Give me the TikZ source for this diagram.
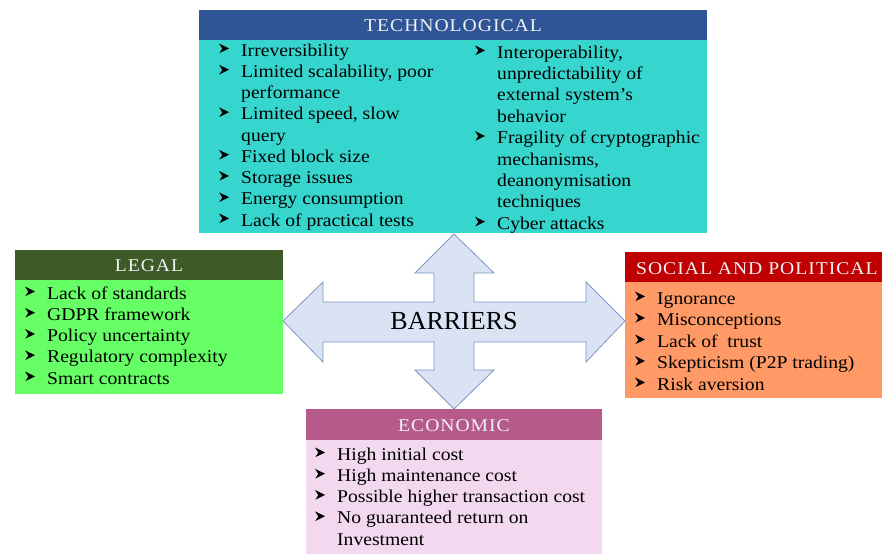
\documentclass[tikz,border=0pt]{standalone}
\usepackage{fontspec}
\setmainfont{Liberation Serif}
\newfontfamily\bodyfont{Liberation Serif}[FakeStretch=1.09]
\newfontfamily\hdrfont{Liberation Serif}[FakeStretch=1.09,LetterSpace=5.5]
\definecolor{techH}{HTML}{2F5597}
\definecolor{techB}{HTML}{36D6CE}
\definecolor{legH}{HTML}{3D5A27}
\definecolor{legB}{HTML}{66FF66}
\definecolor{socH}{HTML}{C00000}
\definecolor{socB}{HTML}{FF9966}
\definecolor{ecoH}{HTML}{B55A8A}
\definecolor{ecoB}{HTML}{F3D9EF}
\definecolor{arrF}{HTML}{DAE3F3}
\definecolor{arrD}{HTML}{7F95C2}
\definecolor{hdrT}{HTML}{EEF0F4}
\newcommand\bitem[4]{\pic at (#1-22,#2) {bul}; \node[txt,anchor=base west] (#4) at (#1,#2) {#3};}
\newcommand\citem[4]{\node[txt,anchor=base west] (#4) at (#1,#2) {#3};}
\begin{document}
\begin{tikzpicture}[x=1pt,y=-1pt,
  txt/.style={inner sep=0pt,font=\bodyfont\fontsize{18}{20}\selectfont,text=black},
  hdr/.style={inner sep=0pt,font=\hdrfont\fontsize{18}{20}\selectfont,text=hdrT,anchor=base},
  bul/.pic={\fill[black] (0,-12.5) -- (10,-7.6) -- (0.3,-2.8) -- (3.3,-7.4) -- cycle;}]
\useasboundingbox (0,0) rectangle (882,554);
\fill[white] (0,0) rectangle (882,554);
% central arrow
\filldraw[fill=arrF,draw=arrD,line width=0.8pt,line join=miter]
 (454,234) -- (494,273) -- (474,273) -- (474,302) -- (586,302) -- (586,282) -- (625,321)
 -- (586,362) -- (586,342) -- (474,342) -- (474,370) -- (494,370) -- (454,409)
 -- (415,370) -- (434,370) -- (434,342) -- (323,342) -- (323,362) -- (283,321)
 -- (323,282) -- (323,302) -- (434,302) -- (434,273) -- (415,273) -- cycle;
\node[inner sep=0pt,font=\fontsize{26}{28}\selectfont] (barriers) at (454,321) {BARRIERS};
% technological
\fill[techB] (199,40) rectangle (707,233);
\fill[techH] (199,10) rectangle (707,40);
\node[hdr] (techT) at (453,31) {TECHNOLOGICAL};
\bitem{241}{56}{Irreversibility}{t1}
\bitem{241}{77.3}{Limited scalability, poor}{t2}
\citem{241}{98.5}{performance}{t3}
\bitem{241}{119.8}{Limited speed, slow}{t4}
\citem{241}{141}{query}{t5}
\bitem{241}{162.3}{Fixed block size}{t6}
\bitem{241}{183.5}{Storage issues}{t7}
\bitem{241}{204.8}{Energy consumption}{t8}
\bitem{241}{226}{Lack of practical tests}{t9}
\bitem{497}{58}{Interoperability,}{r1}
\citem{497}{79.4}{unpredictability of}{r2}
\citem{497}{100.8}{external system’s}{r3}
\citem{497}{122.2}{behavior}{r4}
\bitem{497}{143.6}{Fragility of cryptographic}{r5}
\citem{497}{165}{mechanisms,}{r6}
\citem{497}{186.4}{deanonymisation}{r7}
\citem{497}{207.8}{techniques}{r8}
\bitem{497}{229.2}{Cyber attacks}{r9}
% legal
\fill[legB] (15,280) rectangle (283,394);
\fill[legH] (15,250) rectangle (283,280);
\node[hdr] (legT) at (149,271) {LEGAL};
\bitem{47}{299}{Lack of standards}{l1}
\bitem{47}{320.3}{GDPR framework}{l2}
\bitem{47}{341.5}{Policy uncertainty}{l3}
\bitem{47}{362.8}{Regulatory complexity}{l4}
\bitem{47}{384}{Smart contracts}{l5}
% social and political
\fill[socB] (625,282) rectangle (882,398);
\fill[socH] (625,252) rectangle (882,282);
\node[hdr,anchor=base west] (socT) at (636,274) {SOCIAL AND POLITICAL};
\bitem{657}{304}{Ignorance}{s1}
\bitem{657}{325.5}{Misconceptions}{s2}
\bitem{657}{347}{Lack of\ \ trust}{s3}
\bitem{657}{368.5}{Skepticism (P2P trading)}{s4}
\bitem{657}{390}{Risk aversion}{s5}
% economic
\fill[ecoB] (306,440) rectangle (602,554);
\fill[ecoH] (306,409) rectangle (602,440);
\node[hdr] (ecoT) at (454,431) {ECONOMIC};
\bitem{337}{460}{High initial cost}{e1}
\bitem{337}{481.3}{High maintenance cost}{e2}
\bitem{337}{502.5}{Possible higher transaction cost}{e3}
\bitem{337}{523.8}{No guaranteed return on}{e4}
\citem{337}{545}{Investment}{e5}
\end{tikzpicture}
\end{document}
